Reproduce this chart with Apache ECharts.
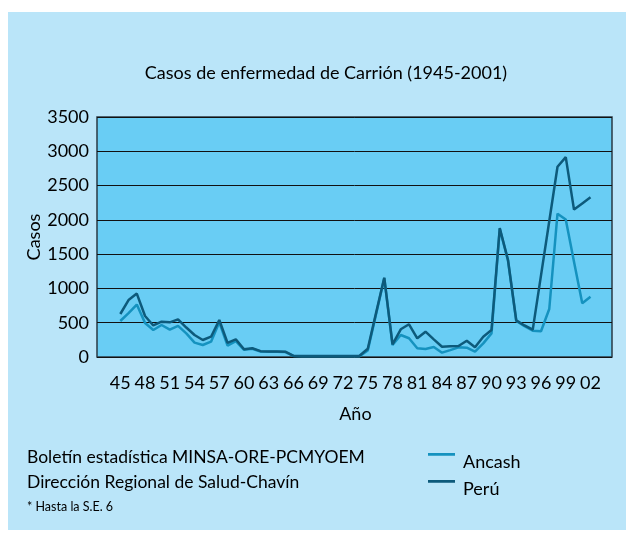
<!DOCTYPE html>
<html>
<head>
<meta charset="utf-8">
<script src="https://cdn.jsdelivr.net/npm/echarts@6/dist/echarts.min.js"></script>
<style>
html,body{margin:0;padding:0;background:#fff;}
#c{width:626px;height:535px;}
</style>
</head>
<body>
<div id="c"></div>
<script>
var years = ['45','46','47','48','49','50','51','52','53','54','55','56','57','58','59',
  '60','61','62','63','64','65','66','67','68','69','70','71','72','73','74','75','76','77','78','79',
  '80','81','82','83','84','85','86','87','88','89','90','91','92','93','94','95','96','97','98','99',
  '00','01','02'];
var ancash = [525,640,765,495,394,467,400,455,345,210,175,223,505,165,230,
  105,120,80,75,75,72,15,12,12,12,12,12,12,12,12,95,620,1150,175,321,
  273,127,117,146,63,100,141,136,78,199,345,1870,1405,525,450,384,375,700,2090,2005,
  1390,783,880];
var peru = [627,831,925,598,460,515,506,549,430,321,248,296,540,205,258,
  112,127,85,80,80,78,18,15,15,15,15,15,15,15,18,120,640,1157,185,404,
  477,273,369,258,150,155,160,238,141,296,394,1880,1415,535,460,400,1190,1980,2775,2915,
  2150,2240,2330];
var yTicks = {min:0, max:3500, interval:500};

var FONT = 'Lato';
var TXT = '#000';
var chart = echarts.init(document.getElementById('c'));
var legendIcon = 'path://M0,0 L30,0 L30,3 L0,3 Z M0,20 L0.01,20 L0.01,20.01 Z';
chart.setOption({
  backgroundColor: '#ffffff',
  textStyle: {fontFamily: FONT},
  title: {
    text: 'Casos de enfermedad de Carrión (1945-2001)',
    left: 321, top: 57, textAlign: 'center',
    textStyle: {fontFamily: FONT, fontSize: 18, fontWeight: 'normal', color: TXT, lineHeight: 22}
  },
  graphic: [
    {type:'rect', z:-10, silent:true, shape:{x:8,y:12,width:618,height:518}, style:{fill:'#BAE5F9'}},
    {type:'text', left:27, top:448, style:{text:'Boletín estadística MINSA-ORE-PCMYOEM', font:'17.5px '+FONT, fill:TXT}},
    {type:'text', left:27, top:473, style:{text:'Dirección Regional de Salud-Chavín', font:'17.5px '+FONT, fill:TXT}},
    {type:'text', left:27, top:500, style:{text:'* Hasta la S.E. 6', font:'12.5px '+FONT, fill:TXT}}
  ],
  legend: {
    left: 423, top: 448, orient: 'vertical',
    itemWidth: 27, itemHeight: 20, itemGap: 9,
    icon: legendIcon,
    textStyle: {fontFamily: FONT, fontSize: 18, color: TXT, padding:[0,0,0,3]},
    data: ['Ancash','Perú']
  },
  grid: [
    {left: 97, top: 117, width: 515, height: 240, show: true,
     backgroundColor: '#69CDF4', borderColor: '#2a3a44', borderWidth: 1.5},
    {left: 120.3, top: 117, width: 470.2, height: 240}
  ],
  xAxis: [
    {gridIndex: 0, type: 'value', show: false, min: 0, max: 1},
    {gridIndex: 1, type: 'category', data: years, boundaryGap: false,
     axisLine: {show: false}, axisTick: {show: false},
     axisLabel: {interval: 2, margin: 17, fontSize: 18, color: TXT, fontFamily: FONT},
     name: 'Año', nameLocation: 'middle', nameGap: 48,
     nameTextStyle: {fontSize: 18, color: TXT, fontFamily: FONT}}
  ],
  yAxis: [
    {gridIndex: 0, type: 'value', min: yTicks.min, max: yTicks.max, interval: yTicks.interval,
     axisLine: {show: false}, axisTick: {show: false},
     axisLabel: {margin: 8, fontSize: 18, color: TXT, fontFamily: FONT,
       formatter: function (v) { return String(v); }},
     splitLine: {lineStyle: {color: '#111', width: 1}},
     name: 'Casos', nameLocation: 'middle', nameGap: 54, nameRotate: 90, nameMoveOverlap: false,
     nameTextStyle: {fontSize: 18, color: TXT, fontFamily: FONT}},
    {gridIndex: 1, type: 'value', min: yTicks.min, max: yTicks.max, interval: yTicks.interval,
     show: false, splitLine: {show: false}}
  ],
  series: [
    {name: 'Ancash', type: 'line', xAxisIndex: 1, yAxisIndex: 1, data: ancash,
     showSymbol: false, symbol: 'none', color: '#1592BF',
     lineStyle: {width: 2.5, color: '#1592BF'}, itemStyle: {color: '#1592BF'}},
    {name: 'Perú', type: 'line', xAxisIndex: 1, yAxisIndex: 1, data: peru,
     showSymbol: false, symbol: 'none', color: '#0D5A7B',
     lineStyle: {width: 2.5, color: '#0D5A7B'}, itemStyle: {color: '#0D5A7B'}}
  ]
});
</script>
</body>
</html>
